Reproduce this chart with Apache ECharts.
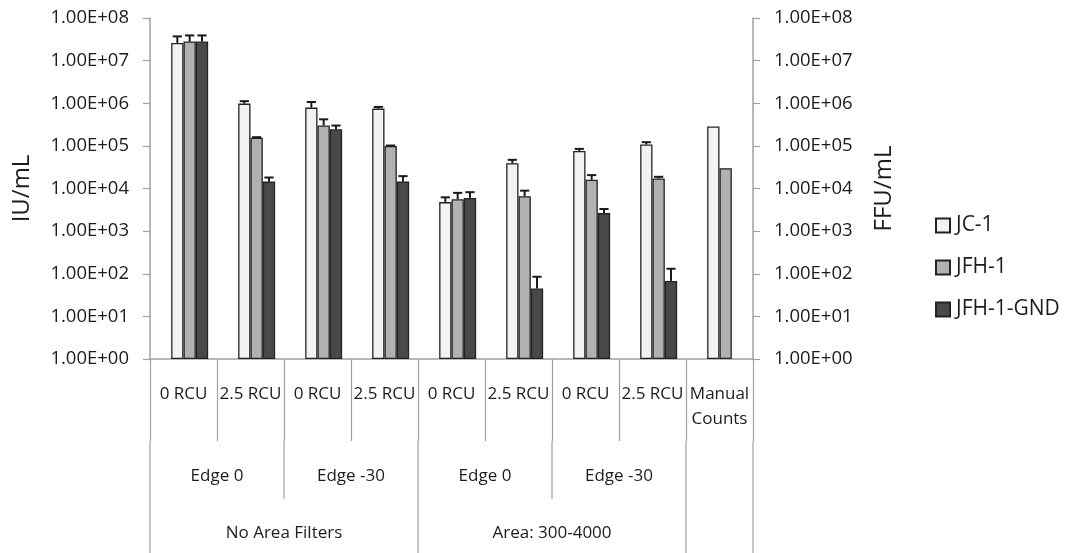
<!DOCTYPE html>
<html>
<head>
<meta charset="utf-8">
<script src="https://cdn.jsdelivr.net/npm/echarts@6/dist/echarts.min.js"></script>
<style>
  html, body { margin: 0; padding: 0; background: #fff; }
  #chart { width: 1067px; height: 553px; }
</style>
</head>
<body>
<div id="chart"></div>
<script>
// Category labels (innermost level) and the two grouping levels under them
const categories = ['0 RCU', '2.5 RCU', '0 RCU', '2.5 RCU', '0 RCU', '2.5 RCU', '0 RCU', '2.5 RCU', 'Manual\nCounts'];
const edgeGroups = [
  { label: 'Edge 0', span: 2 }, { label: 'Edge -30', span: 2 },
  { label: 'Edge 0', span: 2 }, { label: 'Edge -30', span: 2 },
  { label: '', span: 1 }
];
const areaGroups = [
  { label: 'No Area Filters', span: 4 },
  { label: 'Area: 300-4000', span: 4 },
  { label: '', span: 1 }
];

const seriesNames = ['JC-1', 'JFH-1', 'JFH-1-GND'];

// Titres (IU/mL, FFU/mL for manual counts)
const jc1  = [2.6e7, 9.8e5, 7.9e5, 7.5e5, 4.8e3, 3.9e4, 7.6e4, 1.08e5, 2.85e5];
const jfh1 = [2.8e7, 1.55e5, 3.0e5, 1.0e5, 5.6e3, 6.6e3, 1.6e4, 1.72e4, 3.0e4];
const gnd  = [2.8e7, 1.45e4, 2.45e5, 1.45e4, 6.0e3, 45, 2.65e3, 68, null];

// Upper error (standard deviation) for each bar
const jc1Err  = [1.1e7, 1.4e5, 2.8e5, 7e4, 1.4e3, 8e3, 9e3, 1.4e4, null];
const jfh1Err = [1.1e7, 5e3, 1.2e5, 2e3, 2.3e3, 2.3e3, 4.6e3, 1.6e3, null];
const gndErr  = [1.1e7, 3.6e3, 5.5e4, 5e3, 2.2e3, 40, 650, 63, null];

const yTicks = [1, 10, 100, 1e3, 1e4, 1e5, 1e6, 1e7, 1e8];

const FONT = '"Open Sans", "Noto Sans", sans-serif';
const TEXT = '#1c1c1c';
const AXIS_GRAY = '#a0a0a0';
const fills = ['#f1f2f3', '#b0b1b3', '#48494b'];
const EDGE = '#232323';
const BAR_PCT = 0.184;   // bar width as a share of one category band

function sci(v) {
  const e = Math.round(Math.log10(v));
  const m = v / Math.pow(10, e);
  return m.toFixed(2) + 'E' + (e < 0 ? '-' : '+') + String(Math.abs(e)).padStart(2, '0');
}

function yAxisCfg(pos, name, gap) {
  return {
    type: 'log', logBase: 10, position: pos,
    min: yTicks[0], max: yTicks[yTicks.length - 1],
    splitNumber: yTicks.length - 1,
    name: name, nameLocation: 'middle', nameGap: gap, nameRotate: 90,
    nameTextStyle: { fontFamily: FONT, fontSize: 24, color: TEXT },
    axisLine: { show: true, lineStyle: { color: AXIS_GRAY, width: 1.5 } },
    axisTick: { show: true, inside: false, length: 7, lineStyle: { color: AXIS_GRAY, width: 1.2 } },
    minorTick: { show: false },
    splitLine: { show: false },
    axisLabel: { fontFamily: FONT, fontSize: 18.5, color: TEXT, margin: 21, formatter: sci }
  };
}

// Error bar drawn above a bar occupying the given slot of the 4-slot group
function errorBars(slot, values, errs) {
  return {
    type: 'custom', xAxisIndex: 0, yAxisIndex: 0, z: 5, silent: true,
    data: values.map((v, i) => [i, v, errs[i]]),
    renderItem(params, api) {
      const v = api.value(1), e = api.value(2);
      if (!v || !e) return null;
      const band = api.size([1, 1])[0];
      const c = api.coord([api.value(0), v]);
      const t = api.coord([api.value(0), v + e]);
      const x = c[0] + (slot - 1.5) * BAR_PCT * band;
      const half = 4.6;
      const st = { stroke: '#1a1a1a', lineWidth: 2 };
      return {
        type: 'group',
        children: [
          { type: 'line', shape: { x1: x, y1: c[1], x2: x, y2: t[1] }, style: st },
          { type: 'line', shape: { x1: x - half, y1: t[1], x2: x + half, y2: t[1] }, style: st }
        ]
      };
    }
  };
}

function barSeries(name, data, color) {
  return {
    name: name, type: 'bar', data: data,
    barWidth: (BAR_PCT * 100) + '%', barGap: '0%',
    itemStyle: { color: color, borderColor: EDGE, borderWidth: 1.3 }
  };
}

const chart = echarts.init(document.getElementById('chart'), null, { renderer: 'canvas' });

const option = {
  animation: false,
  backgroundColor: '#ffffff',
  grid: { left: 150, right: 314, top: 18, bottom: 194, containLabel: false, outerBoundsMode: 'none' },
  legend: {
    data: seriesNames, orient: 'vertical', left: 935, top: 215, padding: 0,
    itemWidth: 14, itemHeight: 14, itemGap: 21,
    icon: 'rect',
    textStyle: { fontFamily: FONT, fontSize: 21, color: TEXT, padding: [0, 0, 0, 1] }
  },
  xAxis: {
    type: 'category', data: categories,
    axisLine: { show: true, lineStyle: { color: AXIS_GRAY, width: 1.5 } },
    axisTick: { show: true, interval: 0, length: 82, lineStyle: { color: AXIS_GRAY, width: 1.2 } },
    axisLabel: { interval: 0, fontFamily: FONT, fontSize: 17, color: TEXT, margin: 23, lineHeight: 25 }
  },
  yAxis: [yAxisCfg('left', 'IU/mL', 116), yAxisCfg('right', 'FFU/mL', 119)],
  series: [
    // empty leading slot of each group
    { name: '_slot', type: 'bar', data: categories.map(() => null), barWidth: (BAR_PCT * 100) + '%', barGap: '0%' },
    barSeries('JC-1', jc1, fills[0]),
    barSeries('JFH-1', jfh1, fills[1]),
    barSeries('JFH-1-GND', gnd, fills[2]),
    errorBars(1, jc1, jc1Err),
    errorBars(2, jfh1, jfh1Err),
    errorBars(3, gnd, gndErr)
  ]
};
chart.setOption(option);

// Lower label rows: group separators and group names
function drawGroups() {
  const x0 = chart.convertToPixel({ xAxisIndex: 0 }, 0);
  const x1 = chart.convertToPixel({ xAxisIndex: 0 }, 1);
  const band = x1 - x0;
  const left = x0 - band / 2;
  const axisY = chart.convertToPixel({ yAxisIndex: 0 }, yTicks[0]);
  const rowBottom = [axisY + 82, axisY + 140, 553];
  const bx = b => left + b * band;

  const depth = new Array(categories.length + 1).fill(0);
  depth[0] = 2; depth[categories.length] = 2;
  [edgeGroups, areaGroups].forEach((groups, lvl) => {
    let b = 0;
    groups.forEach(g => { depth[b] = Math.max(depth[b], lvl + 1); b += g.span; depth[b] = Math.max(depth[b], lvl + 1); });
  });

  const elements = [];
  depth.forEach((d, b) => {
    if (d === 0) return;
    elements.push({
      type: 'line', silent: true,
      shape: { x1: bx(b), y1: rowBottom[0], x2: bx(b), y2: rowBottom[d] },
      style: { stroke: AXIS_GRAY, lineWidth: 1.2 }
    });
  });
  const rowText = [axisY + 117, axisY + 174];
  [edgeGroups, areaGroups].forEach((groups, lvl) => {
    let b = 0;
    groups.forEach(g => {
      if (g.label) {
        elements.push({
          type: 'text', silent: true,
          style: {
            text: g.label, x: bx(b + g.span / 2), y: rowText[lvl],
            align: 'center', verticalAlign: 'middle',
            font: '17px ' + FONT, fill: TEXT
          }
        });
      }
      b += g.span;
    });
  });
  chart.setOption({ graphic: { elements: elements } });
}
drawGroups();
</script>
</body>
</html>
